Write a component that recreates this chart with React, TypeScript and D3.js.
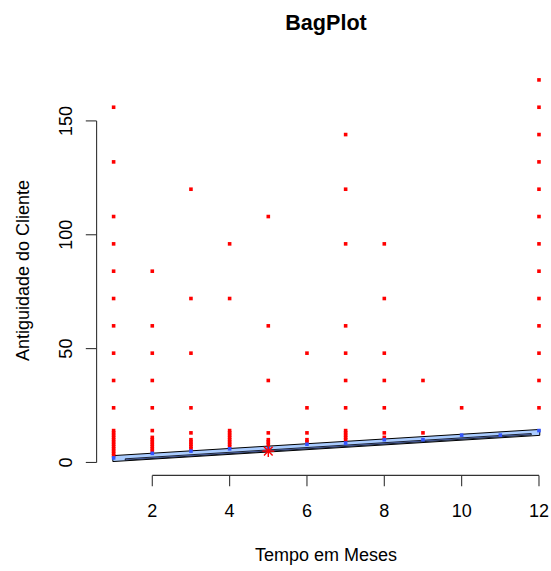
import React from "react";
import * as d3 from "d3";

const W = 551;
const H = 571;

const title = "BagPlot";
const xTitle = "Tempo em Meses";
const yTitle = "Antiguidade do Cliente";

const xTicks = [2, 4, 6, 8, 10, 12];
const yTicks = [0, 50, 100, 150];

// outlier (red) values per month
const red1 = [3, 4, 5, 6, 7, 8, 9, 10, 11, 12, 13, 14, 24, 36, 48, 60, 72, 84, 96, 108, 132, 156];
const red2 = [5, 6, 7, 8, 9, 10, 11, 14, 24, 36, 48, 60, 84];
const red3 = [6, 7, 8, 9, 10, 13, 24, 48, 72, 120];
const red4 = [7, 8, 9, 10, 11, 12, 13, 14, 72, 96];
const red5 = [8, 9, 10, 13, 36, 60, 108];
const red6 = [9, 10, 13, 24, 48];
const red7 = [10, 11, 12, 13, 14, 24, 36, 48, 60, 96, 120, 144];
const red8 = [11, 13, 24, 36, 48, 72, 96];
const red9 = [13, 36];
const red10 = [24];
const red11: number[] = [];
const red12 = [24, 36, 48, 60, 72, 84, 96, 108, 120, 132, 144, 156, 168];

// points inside the loop (blue), one per month
const loopMonths = [1, 2, 3, 4, 5, 6, 7, 8, 9, 10, 11, 12];
const loopValues = [2, 4, 5, 6, 6, 8, 8.5, 10, 10, 12, 12, 14];

// hull polygons (data coords)
const loopHull: [number, number][] = [[0.98, 3.0], [12.02, 14.5], [12.02, 11.9], [0.98, 0.4]];
const bagHull: [number, number][] = [[1.3, 1.6], [11.8, 12.7], [11.8, 12.1], [1.3, 1.0]];

const median: [number, number] = [5, 5];

const redByMonth = [red1, red2, red3, red4, red5, red6, red7, red8, red9, red10, red11, red12];

const FONT = "'Liberation Sans', Arial, Helvetica, sans-serif";

export default function App() {
  const x = d3.scaleLinear().domain([0.56, 12.44]).range([96.6, 556]);
  const y = d3.scaleLinear().domain([-5.68, 174.68]).range([475.4, 64.7]);
  const line = d3.line<[number, number]>().x((d) => x(d[0])).y((d) => y(d[1]));

  const redPts: [number, number][] = [];
  redByMonth.forEach((vals, i) => vals.forEach((v) => redPts.push([i + 1, v])));
  const bluePts: [number, number][] = loopMonths.map((m, i) => [m, loopValues[i]]);

  const ps = 3.6;
  const mx = x(median[0]);
  const my = y(median[1]);
  const r = 6;
  const tl = 10.8;
  const xAxisY = 475.4;
  const yAxisX = 96.6;

  return (
    <svg
      width={W}
      height={H}
      style={{ position: "absolute", left: 0, top: 0, background: "#fff" }}
      fontFamily={FONT}
    >
      <rect x={0} y={0} width={W} height={H} fill="#fff" />
      <text x={326} y={30} textAnchor="middle" fontWeight="bold" fontSize={21.6} fill="#000">
        {title}
      </text>

      {/* hulls */}
      <path d={line(loopHull)! + "Z"} fill="#aaccff" stroke="#000" strokeWidth={1} />
      <path d={line(bagHull)! + "Z"} fill="#7799ff" stroke="#000" strokeWidth={0.8} />

      {/* outliers */}
      {redPts.map((p, i) => (
        <rect key={"r" + i} x={x(p[0]) - ps / 2} y={y(p[1]) - ps / 2} width={ps} height={ps} fill="#ff0000" />
      ))}
      {/* loop points */}
      {bluePts.map((p, i) => (
        <rect key={"b" + i} x={x(p[0]) - ps / 2} y={y(p[1]) - ps / 2} width={ps} height={ps} fill="#3355ff" />
      ))}

      {/* median */}
      <g stroke="#ff0000" strokeWidth={1.4}>
        <line x1={mx - r} y1={my} x2={mx + r} y2={my} />
        <line x1={mx} y1={my - r} x2={mx} y2={my + r} />
        <line x1={mx - r * 0.72} y1={my - r * 0.72} x2={mx + r * 0.72} y2={my + r * 0.72} />
        <line x1={mx - r * 0.72} y1={my + r * 0.72} x2={mx + r * 0.72} y2={my - r * 0.72} />
      </g>

      {/* axes */}
      <g stroke="#333" strokeWidth={1.1} fill="none">
        <line x1={x(xTicks[0])} y1={xAxisY} x2={x(xTicks[xTicks.length - 1])} y2={xAxisY} />
        {xTicks.map((t) => (
          <line key={"xt" + t} x1={x(t)} y1={xAxisY} x2={x(t)} y2={xAxisY + tl} />
        ))}
        <line x1={yAxisX} y1={y(yTicks[0])} x2={yAxisX} y2={y(yTicks[yTicks.length - 1])} />
        {yTicks.map((t) => (
          <line key={"yt" + t} x1={yAxisX} y1={y(t)} x2={yAxisX - tl} y2={y(t)} />
        ))}
      </g>
      {xTicks.map((t) => (
        <text key={"xl" + t} x={x(t)} y={516.7} textAnchor="middle" fontSize={18} fill="#000">
          {t}
        </text>
      ))}
      {yTicks.map((t) => (
        <text
          key={"yl" + t}
          transform={`translate(71.5,${y(t)}) rotate(-90)`}
          textAnchor="middle"
          fontSize={18}
          fill="#000"
        >
          {t}
        </text>
      ))}
      <text x={326} y={561} textAnchor="middle" fontSize={18} fill="#000">
        {xTitle}
      </text>
      <text transform={`translate(29,${270.5}) rotate(-90)`} textAnchor="middle" fontSize={18} fill="#000">
        {yTitle}
      </text>
    </svg>
  );
}
